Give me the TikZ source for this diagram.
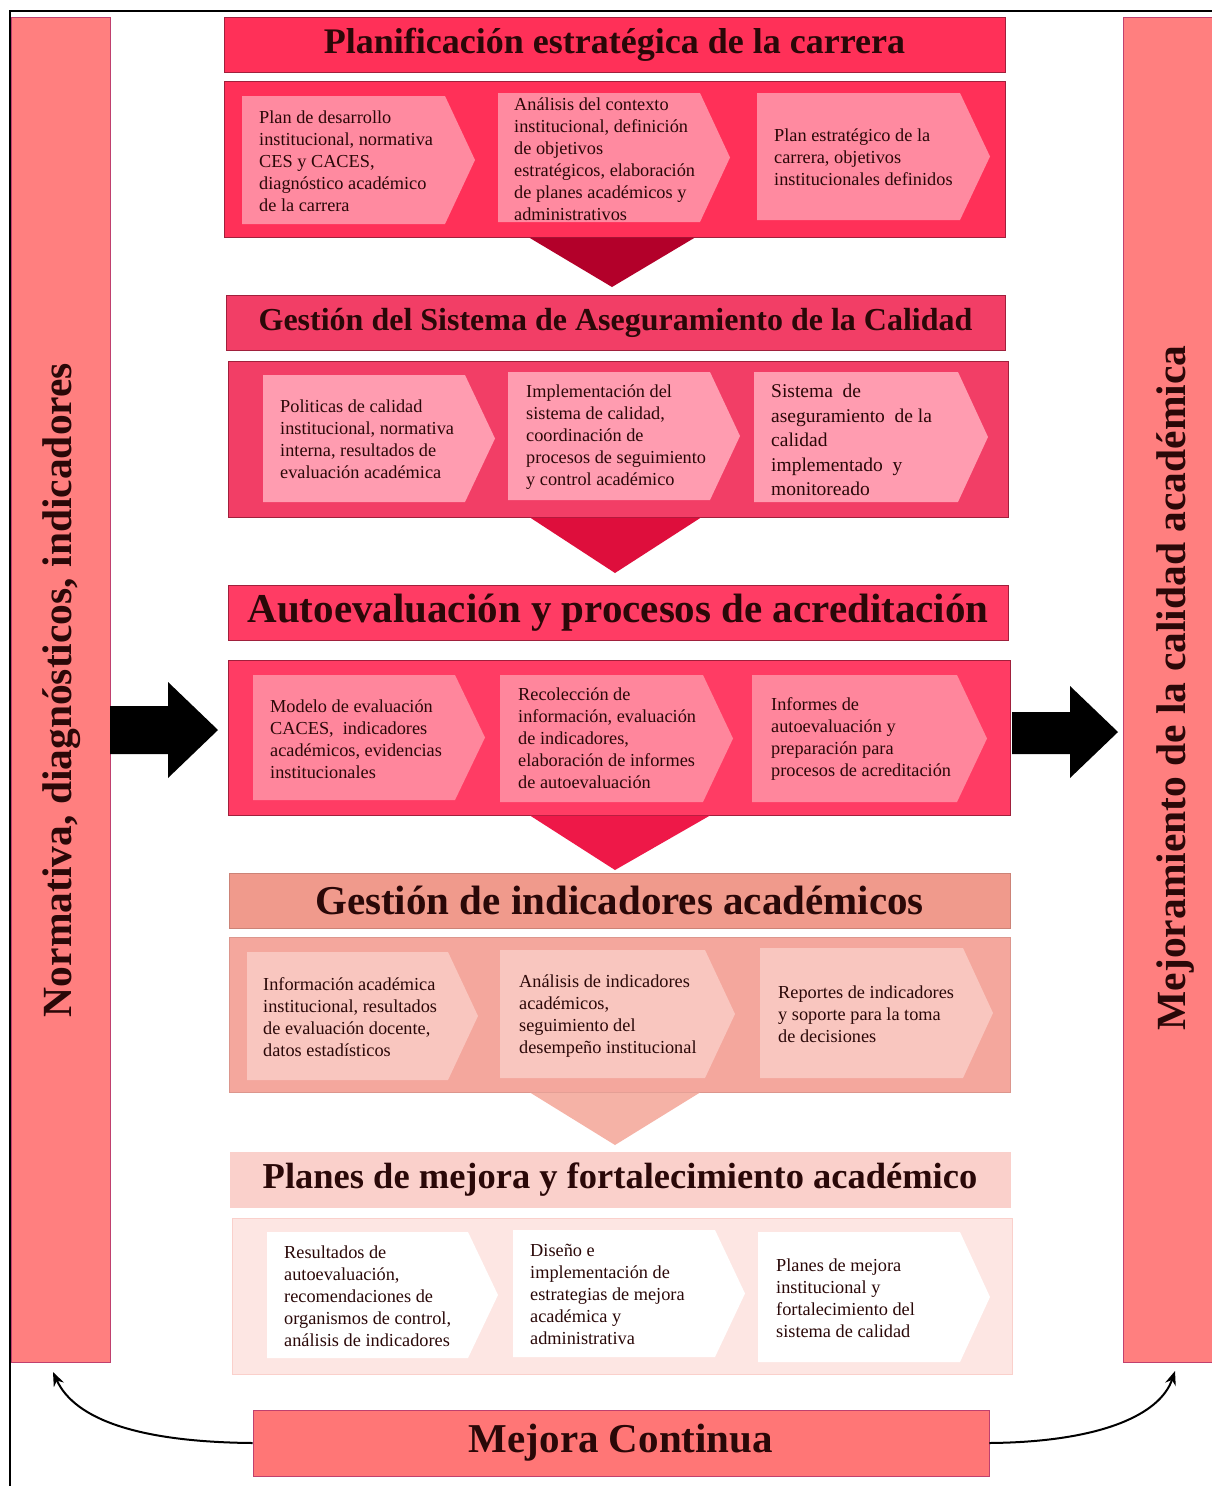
\documentclass[tikz,border=0pt]{standalone}
\usepackage{fontspec}
\setmainfont{Liberation Serif}
\usetikzlibrary{arrows.meta}
\definecolor{sAfill}{HTML}{FF3058}
\definecolor{sAchev}{HTML}{FF8AA0}
\definecolor{sAtri}{HTML}{B3002A}
\definecolor{sBfill}{HTML}{F23E66}
\definecolor{sBchev}{HTML}{FF9CB0}
\definecolor{sBtri}{HTML}{DE0E3C}
\definecolor{sCfill}{HTML}{FF3C64}
\definecolor{sCchev}{HTML}{FF869C}
\definecolor{sCtri}{HTML}{EE1848}
\definecolor{sDtitle}{HTML}{F09A8C}
\definecolor{sDfill}{HTML}{F4A79D}
\definecolor{sDchev}{HTML}{F9C6BF}
\definecolor{sDtri}{HTML}{F5B2A6}
\definecolor{sEtitle}{HTML}{FAD0CB}
\definecolor{sEfill}{HTML}{FDE6E3}
\definecolor{sEchev}{HTML}{FFFFFF}
\definecolor{darkB}{HTML}{A0203C}
\definecolor{sideC}{HTML}{FF7F7F}
\definecolor{sideB}{HTML}{C0406E}
\definecolor{mejC}{HTML}{FF7676}
\definecolor{txtC}{HTML}{2A0808}
\newcommand\chevshape[5]{\fill[#5] (#1,#2) -- ({#3-30},#2) -- (#3,{(#2+#4)/2}) -- ({#3-30},#4) -- (#1,#4) -- cycle;}
\begin{document}
\begin{tikzpicture}[x=1pt,y=-1pt,
  box/.style={draw=darkB, line width=0.8pt, inner sep=0pt},
  ttl/.style={box, minimum height=55pt, text=txtC, font=\bfseries\fontsize{36}{36}\selectfont},
  content/.style={box, minimum height=156pt},
  txt/.style={anchor=west, align=left, inner sep=0pt, text=txtC, font=\fontsize{18.3}{22}\selectfont},
  side/.style={draw=sideB, line width=1pt, fill=sideC, inner sep=0pt},
  sidetxt/.style={rotate=90, text=txtC, font=\bfseries\fontsize{41.5}{41.5}\selectfont},
  curve/.style={-{Stealth[length=14pt,width=11pt]}, line width=2pt, black}]
\useasboundingbox (0,0) rectangle (1211,1486);
\fill[white] (0,0) rectangle (1211,1486);
% frame
\draw[line width=2pt] (1212,11) -- (10,11) -- (10,1487);
% side bars
\node[side, minimum width=99pt, minimum height=1345pt] (lbar) at (60.5,689.5) {};
\node[side, minimum width=95pt, minimum height=1345pt] (rbar) at (1170.5,689.5) {};
\node[sidetxt] (ltxt) at (62,690) {Normativa, diagnósticos, indicadores};
\node[sidetxt] (rtxt) at (1175,688) {Mejoramiento de la calidad académica};

% Section 1
\node[ttl, fill=sAfill, minimum width=781pt] (t1) at (614.5,44.5) {Planificación estratégica de la carrera};
\node[content, fill=sAfill, minimum width=781pt] (c1) at (614.5,159) {};
\chevshape{242}{96}{475}{224}{sAchev}
\chevshape{498}{93}{730}{222}{sAchev}
\chevshape{757}{93}{990}{220}{sAchev}
\node[txt] (a1) at (259,161) {Plan de desarrollo\\institucional, normativa\\CES y CACES,\\diagnóstico académico\\de la carrera};
\node[txt] (a2) at (514,159) {Análisis del contexto\\institucional, definición\\de objetivos\\estratégicos, elaboración\\de planes académicos y\\administrativos};
\node[txt] (a3) at (774,157) {Plan estratégico de la\\carrera, objetivos\\institucionales definidos};
\fill[sAtri] (529,237.5) -- (695,237.5) -- (612,287) -- cycle;

% Section 2
\node[ttl, fill=sBfill, minimum width=779pt, font=\bfseries\fontsize{32}{32}\selectfont] (t2) at (615.5,322.5) {Gestión del Sistema de Aseguramiento de la Calidad};
\node[content, fill=sBfill, minimum width=780pt] (c2) at (618,439) {};
\chevshape{263}{375}{495}{502}{sBchev}
\chevshape{508}{372}{740}{500}{sBchev}
\chevshape{754}{372}{988}{502}{sBchev}
\node[txt] (b1) at (280,439) {Politicas de calidad\\institucional, normativa\\interna, resultados de\\evaluación académica};
\node[txt] (b2) at (526,437) {Implementación del\\sistema de calidad,\\coordinación de\\procesos de seguimiento\\y control académico};
\node[txt, font=\fontsize{19.5}{24.5}\selectfont] (b3) at (771,440) {Sistema\ \ de\\aseguramiento\ \ de la\\calidad\\implementado\ \ y\\monitoreado};
\fill[sBtri] (530,517.5) -- (701,517.5) -- (615,573) -- cycle;

% Section 3
\node[ttl, fill=sCfill, minimum width=780pt, font=\bfseries\fontsize{41}{41}\selectfont] (t3) at (618,612.5) {Autoevaluación y procesos de acreditación};
\node[content, fill=sCfill, minimum width=782pt, minimum height=155pt] (c3) at (619,737.5) {};
\chevshape{253}{675}{485}{800}{sCchev}
\chevshape{500}{675}{733}{802}{sCchev}
\chevshape{752}{675}{987}{802}{sCchev}
\node[txt] (d1) at (270,739) {Modelo de evaluación\\CACES,\ \ indicadores\\académicos, evidencias\\institucionales};
\node[txt] (d2) at (518,738) {Recolección de\\información, evaluación\\de indicadores,\\elaboración de informes\\de autoevaluación};
\node[txt] (d3) at (771,739) {Informes de\\autoevaluación y\\preparación para\\procesos de acreditación};
\fill[sCtri] (530,815.5) -- (710,815.5) -- (615,870) -- cycle;

% Section 4
\node[ttl, draw=sDtitle!85!black, fill=sDtitle, minimum width=781pt, font=\bfseries\fontsize{41}{41}\selectfont] (t4) at (619.5,900.5) {Gestión de indicadores académicos};
\node[content, draw=sDfill!90!black, fill=sDfill, minimum width=781pt, minimum height=155pt] (c4) at (619.5,1014.5) {};
\chevshape{247}{952}{478}{1080}{sDchev}
\chevshape{500}{950}{735}{1078}{sDchev}
\chevshape{760}{948}{993}{1078}{sDchev}
\node[txt] (e1) at (263,1017) {Información académica\\institucional, resultados\\de evaluación docente,\\datos estadísticos};
\node[txt] (e2) at (519,1016) {Análisis de indicadores\\académicos,\\seguimiento del\\desempeño institucional};
\node[txt] (e3) at (778,1014) {Reportes de indicadores\\y soporte para la toma\\de decisiones};
\fill[sDtri] (530,1092.5) -- (700,1092.5) -- (615,1145) -- cycle;

% Section 5
\node[ttl, draw=sEtitle, fill=sEtitle, minimum width=780pt, font=\bfseries\fontsize{36.5}{36.5}\selectfont] (t5) at (620,1179.5) {Planes de mejora y fortalecimiento académico};
\node[content, draw=sEtitle, fill=sEfill, minimum width=780pt] (c5) at (622,1296) {};
\chevshape{267}{1232}{498}{1358}{sEchev}
\chevshape{513}{1230}{745}{1357}{sEchev}
\chevshape{758}{1232}{990}{1362}{sEchev}
\node[txt] (f1) at (284,1296) {Resultados de\\autoevaluación,\\recomendaciones de\\organismos de control,\\análisis de indicadores};
\node[txt] (f2) at (530,1294) {Diseño e\\implementación de\\estrategias de mejora\\académica y\\administrativa};
\node[txt] (f3) at (776,1298) {Planes de mejora\\institucional y\\fortalecimiento del\\sistema de calidad};

% big black arrows
\fill[black] (110,706) -- (168,706) -- (168,682) -- (218,730) -- (168,778) -- (168,754) -- (110,754) -- cycle;
\fill[black] (1012,712) -- (1070,712) -- (1070,686) -- (1118,732) -- (1070,778) -- (1070,754) -- (1012,754) -- cycle;

% Mejora continua
\node[box, draw=sideB, fill=mejC, minimum width=736pt, minimum height=66pt, text=txtC, font=\bfseries\fontsize{41}{41}\selectfont] (mc) at (621,1443) {Mejora Continua};
\coordinate (ltip) at (53,1372);
\coordinate (rtip) at (1175,1371);
\draw[curve] (mc.west) .. controls (140,1442) and (75,1420) .. (ltip);
\draw[curve] (mc.east) .. controls (1100,1442) and (1160,1415) .. (rtip);
\end{tikzpicture}
\end{document}
